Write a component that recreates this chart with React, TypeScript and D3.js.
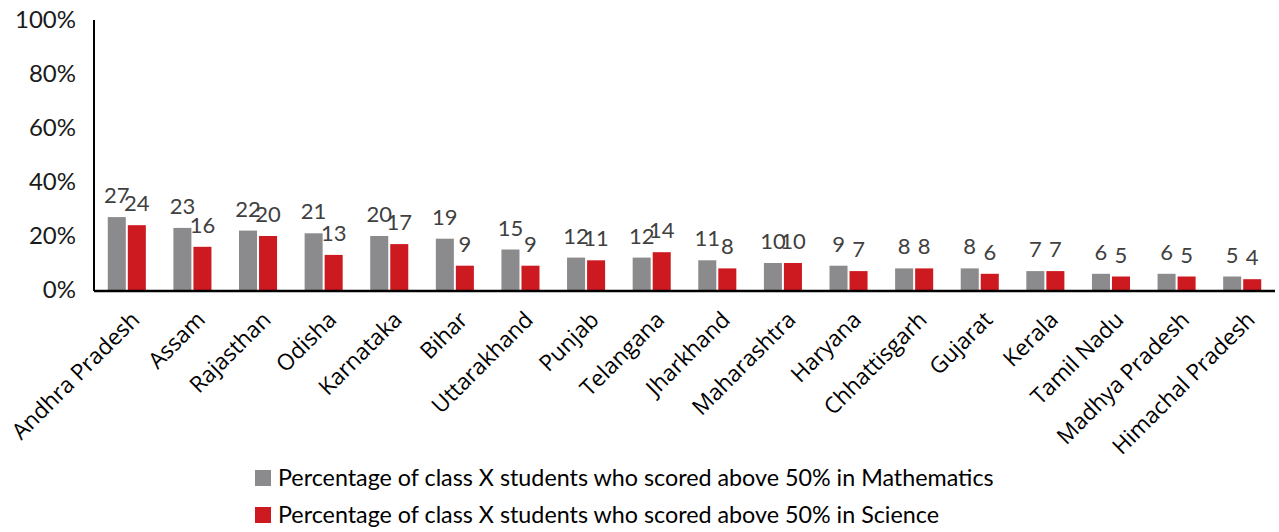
import * as d3 from "d3";

const states = [
  "Andhra Pradesh", "Assam", "Rajasthan", "Odisha", "Karnataka", "Bihar",
  "Uttarakhand", "Punjab", "Telangana", "Jharkhand", "Maharashtra", "Haryana",
  "Chhattisgarh", "Gujarat", "Kerala", "Tamil Nadu", "Madhya Pradesh", "Himachal Pradesh",
];
const mathScores = [27, 23, 22, 21, 20, 19, 15, 12, 12, 11, 10, 9, 8, 8, 7, 6, 6, 5];
const scienceScores = [24, 16, 20, 13, 17, 9, 9, 11, 14, 8, 10, 7, 8, 6, 7, 5, 5, 4];
const yTicks = [0, 20, 40, 60, 80, 100];
const seriesNames = [
  "Percentage of class X students who scored above 50% in Mathematics",
  "Percentage of class X students who scored above 50% in Science",
];

const W = 1279;
const H = 532;
const left = 94;
const right = 1275;
const top = 20;
const bottom = 290;
const colors = ["#8b8b8d", "#cd1a20"];

export default function App() {
  const x = d3.scaleBand<string>().domain(states).range([left, right]).paddingInner(0.42).paddingOuter(0.21);
  const y = d3.scaleLinear().domain([0, 100]).range([bottom, top]);
  const inner = d3.scaleBand<number>().domain([0, 1]).range([0, x.bandwidth()]).paddingInner(0.1);
  const series = [mathScores, scienceScores];

  return (
    <svg width={W} height={H} style={{ position: "absolute", left: 0, top: 0 }}>
      <rect width={W} height={H} fill="#fff" />
      {yTicks.map((t) => (
        <text key={t} x={76} y={y(t)} dy="0.35em" textAnchor="end" fontFamily="Lato" fontSize={24} fill="#1a1a1a">
          {t}%
        </text>
      ))}
      {series.map((vals, si) =>
        vals.map((v, i) => {
          const bx = (x(states[i]) as number) + (inner(si) as number);
          return (
            <g key={`${si}-${i}`}>
              <rect x={bx} y={y(v)} width={inner.bandwidth()} height={bottom - y(v)} fill={colors[si]} />
              <text
                x={bx + inner.bandwidth() / 2}
                y={y(v) - 14}
                textAnchor="middle"
                fontFamily="Lato"
                fontSize={22}
                fill="#404040"
              >
                {v}
              </text>
            </g>
          );
        })
      )}
      <line x1={left} x2={left} y1={top} y2={bottom + 1} stroke="#000" strokeWidth={2} />
      <line x1={left} x2={right} y1={bottom + 1} y2={bottom + 1} stroke="#000" strokeWidth={2.5} />
      {states.map((s) => {
        const cx = (x(s) as number) + x.bandwidth() / 2;
        return (
          <text
            key={s}
            transform={`translate(${cx + 3},${bottom + 20}) rotate(-45)`}
            textAnchor="end"
            dy="0.7em"
            fontFamily="Open Sans"
            fontSize={22.5}
            fill="#000"
          >
            {s}
          </text>
        );
      })}
      {seriesNames.map((n, i) => (
        <g key={n} transform={`translate(255,${470 + i * 37})`}>
          <rect x={0} y={0} width={16} height={16} fill={colors[i]} />
          <text x={23} y={8} dy="0.35em" fontFamily="Lato" fontSize={23.3} fill="#000">
            {n}
          </text>
        </g>
      ))}
    </svg>
  );
}
